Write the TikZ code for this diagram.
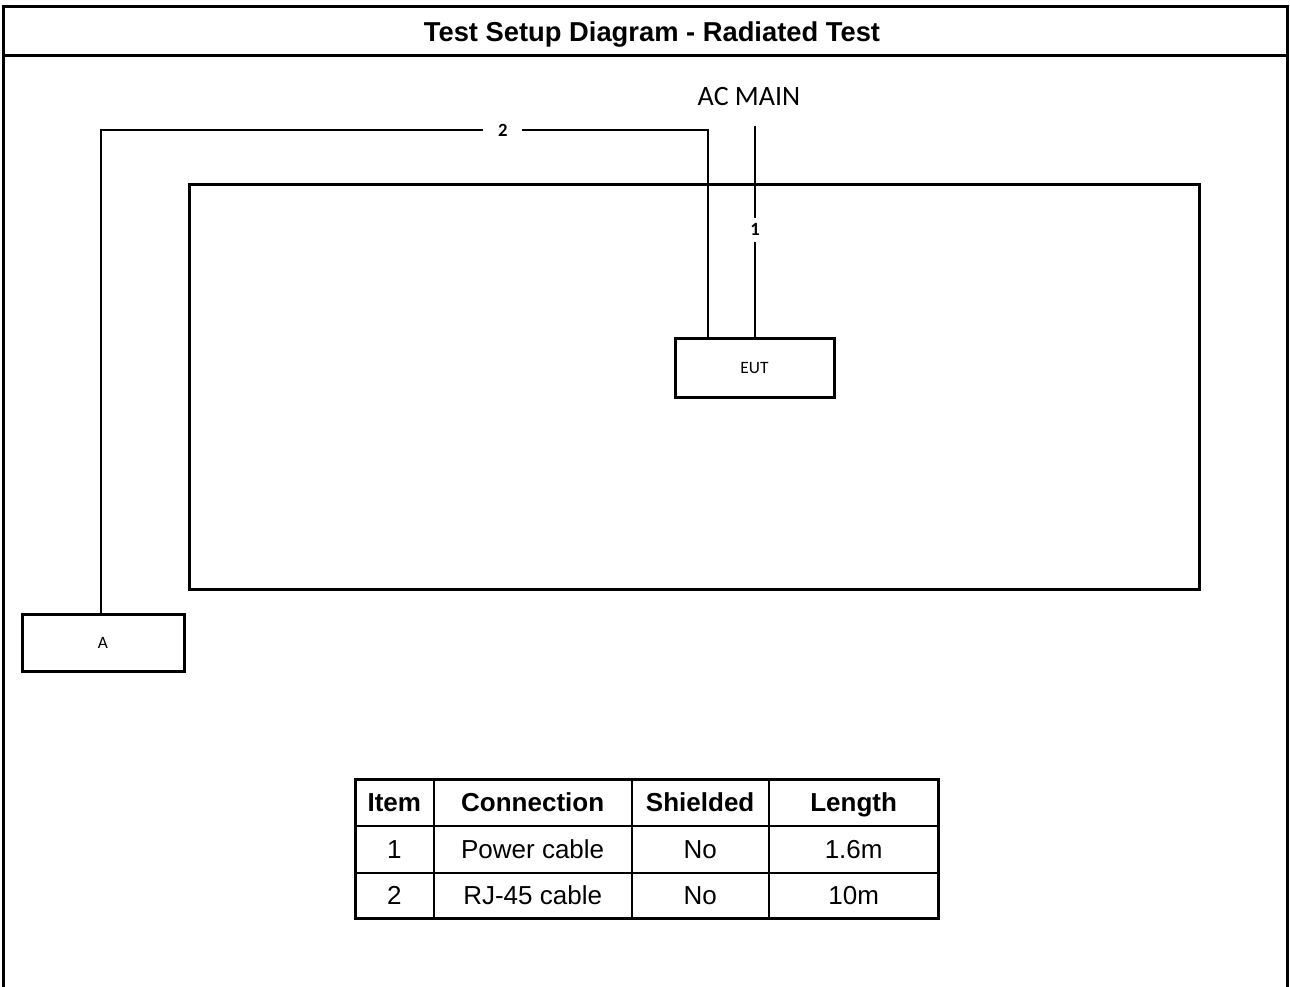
\documentclass[tikz,border=0pt]{standalone}
\usepackage{fontspec}
\setmainfont{Liberation Sans}
\newfontfamily\calibri{Carlito}
\usetikzlibrary{positioning,matrix}

\begin{document}
\begin{tikzpicture}[
    x=0.75pt,y=-0.75pt,
    frame/.style={line width=2.25pt},
    box/.style={rectangle,draw,line width=2.25pt,font=\calibri\fontsize{13}{15}\selectfont},
    cable/.style={line width=1.5pt},
    cablelabel/.style={fill=white,inner xsep=11pt,inner ysep=4.5pt,font=\calibri\bfseries\fontsize{14}{16}\selectfont},
    cell/.style={rectangle,draw,line width=1.5pt,minimum height=35.25pt,inner sep=0pt,
                 text height=18pt,text depth=4pt,
                 font=\fontsize{19.5}{22}\selectfont,anchor=center}
]
\useasboundingbox (0,0) rectangle (1290,987);

% outer frame and title row
\draw[frame] (3,987) -- (3,7) -- (1287,7) -- (1287,987);
\draw[frame] (3,56) -- (1287,56);
\node[font=\bfseries\fontsize{20.5}{24}\selectfont,anchor=base] (title) at (652,41.5) {Test Setup Diagram - Radiated Test};

% test room
\draw[frame] (189,185) rectangle (1199,590);

% units
\node[box,minimum width=119.25pt,minimum height=44.25pt] (eut) at (754.5,368.5) {EUT};
\node[box,minimum width=121.5pt,minimum height=42pt] (aux) at (103,643) {A};
\node[font=\calibri\fontsize{21}{24}\selectfont] (acmain) at (749,97) {AC MAIN};

% cables
\coordinate (acend) at (755,126);
\coordinate (bendA) at (101,130);
\coordinate (bendE) at (708,130);
\draw[cable] (acend) -- node[cablelabel,pos=0.49]{1} (eut.north -| acend);
\draw[cable] (aux.north -| bendA) -- (bendA) -- node[cablelabel,pos=0.662]{2} (bendE) -- (eut.north -| bendE);

% cable list
\matrix (cables) [matrix of nodes,anchor=north west,inner sep=0pt,outer sep=0pt,
    column sep=-1.5pt,row sep=-1.5pt,
    nodes={cell},
    column 1/.style={nodes={minimum width=59pt}},
    column 2/.style={nodes={minimum width=148.5pt}},
    column 3/.style={nodes={minimum width=102.75pt}},
    column 4/.style={nodes={minimum width=127.5pt}},
    row 1/.style={nodes={font=\bfseries\fontsize{19.5}{22}\selectfont}},
    row 3/.style={nodes={minimum height=33.75pt}}] at (354,778) {
  Item & Connection & Shielded & Length \\
  1 & Power cable & No & 1.6m \\
  2 & RJ-45 cable & No & 10m \\
};
\draw[frame] (cables-1-1.north west) rectangle (cables-3-4.south east);
\end{tikzpicture}
\end{document}
